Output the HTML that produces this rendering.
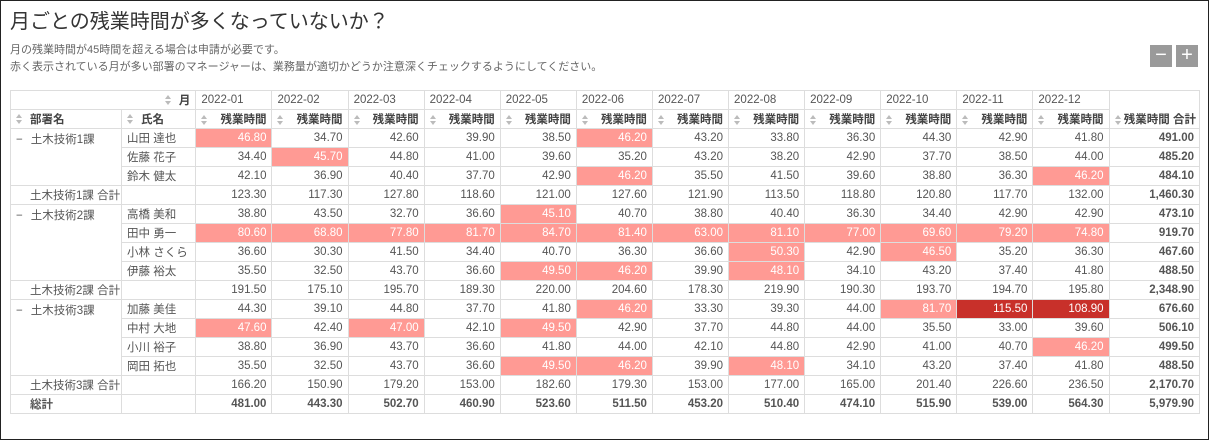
<!DOCTYPE html>
<html><head><meta charset="utf-8">
<style>
body{margin:0;width:1209px;height:440px;overflow:hidden;background:#fff;font-family:"Liberation Sans","Noto Sans CJK JP",sans-serif;}
#frame{position:absolute;left:0;top:0;width:1207px;height:438px;border:1px solid #222;}
#title{position:absolute;left:10px;top:5px;font-size:20px;color:#333;}
.sub{position:absolute;left:10px;font-size:11px;color:#666;}
.btn{position:absolute;top:45px;width:22px;height:22px;background:#9a9a9a;color:#fff;font-size:20px;line-height:21px;text-align:center;}
table{position:absolute;left:10px;top:90px;width:1190px;border-collapse:collapse;table-layout:fixed;font-size:11.5px;color:#555;}
td{border:1px solid #ddd;height:18px;padding:0 5px;white-space:nowrap;overflow:hidden;}
td.n{text-align:right;}
td.b{font-weight:bold;}
.hd{font-weight:bold;color:#444;}
.sort{display:inline-block;width:6px;height:10px;vertical-align:-1px;margin-right:8px;position:relative;}
.sort:before,.sort:after{content:"";position:absolute;left:0;border-left:3px solid transparent;border-right:3px solid transparent;}
.sort:before{top:0;border-bottom:4px solid #bbb;}
.sort:after{bottom:0;border-top:4px solid #bbb;}
td.lr{background:#ff9a94;color:#fff;}
td.dr{background:#c8302a;color:#fff;}
</style></head><body>
<div id="frame"></div>
<div id="title">月ごとの残業時間が多くなっていないか？</div>
<div class="sub" style="top:41px">月の残業時間が45時間を超える場合は申請が必要です。</div>
<div class="sub" style="top:58px">赤く表示されている月が多い部署のマネージャーは、業務量が適切かどうか注意深くチェックするようにしてください。</div>
<div class="btn" style="left:1150px">−</div>
<div class="btn" style="left:1176px">+</div>
<table id="pt">
<colgroup><col style="width:97px"><col style="width:65px"><col span="12" style="width:66.5px"><col style="width:79px"></colgroup>
<tbody id="tb"></tbody></table>
<script>
const months=["2022-01","2022-02","2022-03","2022-04","2022-05","2022-06","2022-07","2022-08","2022-09","2022-10","2022-11","2022-12"];
const depts=["土木技術1課","土木技術2課","土木技術3課"];
const names=[["山田 達也","佐藤 花子","鈴木 健太"],["高橋 美和","田中 勇一","小林 さくら","伊藤 裕太"],["加藤 美佳","中村 大地","小川 裕子","岡田 拓也"]];
const values=[
[[46.80,34.70,42.60,39.90,38.50,46.20,43.20,33.80,36.30,44.30,42.90,41.80],
 [34.40,45.70,44.80,41.00,39.60,35.20,43.20,38.20,42.90,37.70,38.50,44.00],
 [42.10,36.90,40.40,37.70,42.90,46.20,35.50,41.50,39.60,38.80,36.30,46.20]],
[[38.80,43.50,32.70,36.60,45.10,40.70,38.80,40.40,36.30,34.40,42.90,42.90],
 [80.60,68.80,77.80,81.70,84.70,81.40,63.00,81.10,77.00,69.60,79.20,74.80],
 [36.60,30.30,41.50,34.40,40.70,36.30,36.60,50.30,42.90,46.50,35.20,36.30],
 [35.50,32.50,43.70,36.60,49.50,46.20,39.90,48.10,34.10,43.20,37.40,41.80]],
[[44.30,39.10,44.80,37.70,41.80,46.20,33.30,39.30,44.00,81.70,115.50,108.90],
 [47.60,42.40,47.00,42.10,49.50,42.90,37.70,44.80,44.00,35.50,33.00,39.60],
 [38.80,36.90,43.70,36.60,41.80,44.00,42.10,44.80,42.90,41.00,40.70,46.20],
 [35.50,32.50,43.70,36.60,49.50,46.20,39.90,48.10,34.10,43.20,37.40,41.80]]];
const fmt=v=>v.toLocaleString("en-US",{minimumFractionDigits:2,maximumFractionDigits:2});
const tb=document.getElementById('tb');
function cell(tr,txt,cls,name){const td=document.createElement('td');td.innerHTML=txt;if(cls)td.className=cls;


tr.appendChild(td);return td;}
function row(name){const tr=document.createElement('tr');


tb.appendChild(tr);return tr;}
let r=row('header-row-months');
let c=cell(r,'<span class="sort"></span>月','n hd','month-field-header');c.colSpan=2;c.style.borderRight='1px solid #ddd';
months.forEach(m=>cell(r,m,'','month-header-'+m));
c=cell(r,'','','total-header-top');c.style.borderBottom='none';
r=row('header-row-fields');
cell(r,'<span class="sort"></span>部署名','hd','dept-field-header').style.borderRight='none';
cell(r,'<span class="sort"></span>氏名','hd','name-field-header');
months.forEach(m=>cell(r,'<span class="sort" style="float:left;margin-top:4px"></span>残業時間','n hd','hours-header-'+m));
c=cell(r,'<span class="sort" style="float:left;margin-top:4px;margin-right:2px"></span>残業時間 合計','n hd','total-hours-header');c.style.borderTop='none';c.style.paddingRight='3px';
const grand=new Array(12).fill(0);
values.forEach((dv,di)=>{
 const sub=new Array(12).fill(0);
 dv.forEach((vals,pi)=>{
  r=row('person-row');
  if(pi===0){const d=cell(r,'<span style="margin-right:8px">−</span>'+depts[di],'','dept-label');d.rowSpan=dv.length;d.style.verticalAlign='top';d.style.paddingTop='2px';}
  cell(r,names[di][pi],'','person-name');
  let t=0;
  vals.forEach((v,mi)=>{sub[mi]+=v;grand[mi]+=v;t+=v;cell(r,fmt(v),'n'+(v>100?' dr':v>45?' lr':''),'hours-cell');});
  cell(r,fmt(t),'n b','person-total');
 });
 r=row('dept-subtotal-row');
 cell(r,'<span style="padding-left:14px">'+depts[di]+' 合計</span>','','dept-subtotal-label');
 cell(r,'','','dept-subtotal-blank');
 let t=0;sub.forEach(v=>{t+=v;cell(r,fmt(v),'n','dept-subtotal-cell');});
 cell(r,fmt(t),'n b','dept-subtotal-total');
});
r=row('grand-total-row');
c=cell(r,'<span style="padding-left:14px">総計</span>','b','grand-total-label');c.style.borderRight='none';
cell(r,'','','grand-total-blank');
let gt=0;grand.forEach(v=>{gt+=v;cell(r,fmt(v),'n b','grand-total-cell');});
cell(r,fmt(gt),'n b','grand-total-total');
</script>
</body></html>
